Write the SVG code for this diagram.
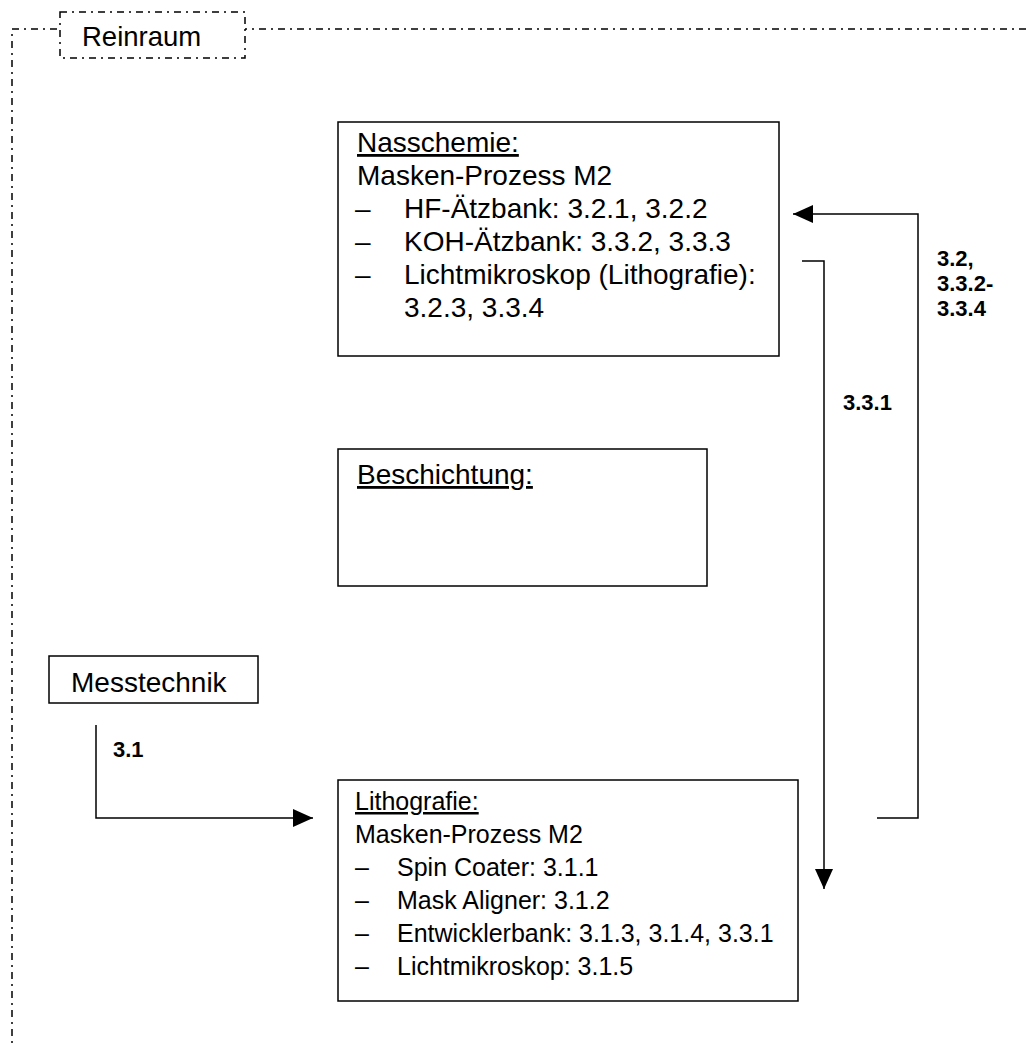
<svg xmlns="http://www.w3.org/2000/svg" width="1026" height="1043" viewBox="0 0 1026 1043">
<defs>
<style>
.box{fill:#fff;stroke:#000;stroke-width:1.5}
.dd{fill:none;stroke:#000;stroke-width:1.5;stroke-dasharray:7 5 2 5}
.ddb{fill:#fff;stroke:#000;stroke-width:1.5;stroke-dasharray:7 5 2 5}
.t{font-family:"Liberation Sans",Arial,sans-serif;font-size:28px;fill:#000}
.s{font-family:"Liberation Sans",Arial,sans-serif;font-size:25px;fill:#000}
.l{font-family:"Liberation Sans",Arial,sans-serif;font-size:22px;font-weight:bold;fill:#000}
.c{fill:none;stroke:#000;stroke-width:1.5}
</style>
<marker id="ah" markerWidth="20" markerHeight="18" refX="20" refY="9" orient="auto" markerUnits="userSpaceOnUse">
<path d="M0,0 L20,9 L0,18 Z" fill="#000"/>
</marker>
</defs>
<rect width="1026" height="1043" fill="#fff"/>
<g id="reinraum">
<path class="dd" d="M1026,29 H12 V1043"/>
<rect class="ddb" x="60" y="12" width="185" height="46"/>
<text class="t" x="82" y="46" style="font-size:27.5px">Reinraum</text>
</g>
<g id="nasschemie">
<rect class="box" x="338" y="122" width="441" height="234"/>
<text class="t" x="357" y="152" text-decoration="underline">Nasschemie:</text>
<text class="t" x="357" y="185">Masken-Prozess M2</text>
<text class="t" x="355" y="218">–</text><text class="t" x="404" y="218">HF-Ätzbank: 3.2.1, 3.2.2</text>
<text class="t" x="355" y="251">–</text><text class="t" x="404" y="251">KOH-Ätzbank: 3.3.2, 3.3.3</text>
<text class="t" x="355" y="284">–</text><text class="t" x="404" y="284">Lichtmikroskop (Lithografie):</text>
<text class="t" x="404" y="317">3.2.3, 3.3.4</text>
</g>
<g id="beschichtung">
<rect class="box" x="338" y="449" width="369" height="137"/>
<text class="t" x="357" y="484" text-decoration="underline">Beschichtung:</text>
</g>
<g id="messtechnik">
<rect class="box" x="49" y="656" width="209" height="47"/>
<text class="t" x="71" y="692">Messtechnik</text>
</g>
<g id="lithografie">
<rect class="box" x="338" y="780" width="460" height="221"/>
<text class="s" x="355" y="810" text-decoration="underline">Lithografie:</text>
<text class="s" x="355" y="843">Masken-Prozess M2</text>
<text class="s" x="355" y="876">–</text><text class="s" x="397" y="876">Spin Coater: 3.1.1</text>
<text class="s" x="355" y="909">–</text><text class="s" x="397" y="909">Mask Aligner: 3.1.2</text>
<text class="s" x="355" y="942">–</text><text class="s" x="397" y="942">Entwicklerbank: 3.1.3, 3.1.4, 3.3.1</text>
<text class="s" x="355" y="975">–</text><text class="s" x="397" y="975">Lichtmikroskop: 3.1.5</text>
</g>
<g id="connectors">
<path class="c" d="M96,725 V818 H313" marker-end="url(#ah)"/>
<text class="l" x="113" y="757">3.1</text>
<path class="c" d="M802,261 H824 V889" marker-end="url(#ah)"/>
<text class="l" x="843" y="410">3.3.1</text>
<path class="c" d="M877,818 H918 V214 H793" marker-end="url(#ah)"/>
<text class="l" x="937" y="266">3.2,</text>
<text class="l" x="937" y="291">3.3.2-</text>
<text class="l" x="937" y="316">3.3.4</text>
</g>
</svg>
